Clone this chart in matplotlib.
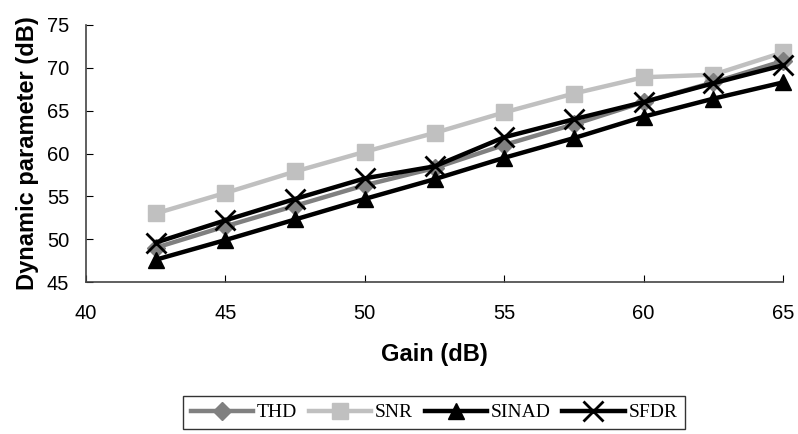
import matplotlib.pyplot as plt

# Data
gain = [42.5, 45, 47.5, 50, 52.5, 55, 57.5, 60, 62.5, 65]
thd = [49.0, 51.5, 53.9, 56.3, 58.3, 61.0, 63.4, 66.0, 68.3, 70.8]
snr = [53.0, 55.4, 57.9, 60.2, 62.4, 64.8, 67.0, 68.9, 69.2, 71.8]
sinad = [47.6, 49.9, 52.3, 54.7, 57.0, 59.5, 61.8, 64.3, 66.4, 68.3]
sfdr = [49.6, 52.2, 54.7, 57.1, 58.5, 61.9, 64.0, 66.0, 68.2, 70.3]

fig = plt.figure(figsize=(7.98, 4.34), dpi=100)
ax = fig.add_axes([0.1078, 0.3502, 0.8734, 0.5922])

lw = 3.2
ax.plot(gain, snr, color="#c0c0c0", lw=lw, marker="s", ms=11, label="SNR", clip_on=False, zorder=2)
ax.plot(gain, thd, color="#808080", lw=lw, marker="D", ms=9, label="THD", clip_on=False, zorder=3)
ax.plot(gain, sinad, color="black", lw=lw, marker="^", ms=11, label="SINAD", clip_on=False, zorder=4)
ax.plot(gain, sfdr, color="black", lw=lw, marker="x", ms=14, mew=2, label="SFDR", clip_on=False, zorder=5)

ax.set_xlim(40, 65)
ax.set_ylim(45, 75)
ax.set_xticks(range(40, 66, 5))
ax.set_yticks(range(45, 76, 5))
ax.tick_params(direction="in", length=5, labelsize=14.5, colors="black")
ax.tick_params(axis="x", pad=16)
ax.tick_params(axis="y", pad=12)
for lbl in ax.get_xticklabels() + ax.get_yticklabels():
    lbl.set_family("Liberation Sans")

ax.spines["top"].set_visible(False)
ax.spines["right"].set_visible(False)
for s in ["left", "bottom"]:
    ax.spines[s].set_color("#444444")
    ax.spines[s].set_linewidth(1.2)

ax.set_xlabel("Gain (dB)", fontsize=17, fontweight="bold", family="Liberation Sans", labelpad=14)
ax.set_ylabel("Dynamic parameter (dB)", fontsize=17, fontweight="bold", family="Liberation Sans", labelpad=6)

handles, labels = ax.get_legend_handles_labels()
order = [1, 0, 2, 3]
leg = fig.legend([handles[i] for i in order], [labels[i] for i in order],
                 loc="upper center", bbox_to_anchor=(0.544, 1 - 396 / 434), ncol=4, frameon=True,
                 fancybox=False, edgecolor="black", handlelength=3.2, columnspacing=0.6,
                 handletextpad=0.2, prop={"family": "Liberation Serif", "size": 14},
                 borderpad=0.4, borderaxespad=0)
leg.get_frame().set_linewidth(1.0)

fig.savefig("out.png", dpi=100)
